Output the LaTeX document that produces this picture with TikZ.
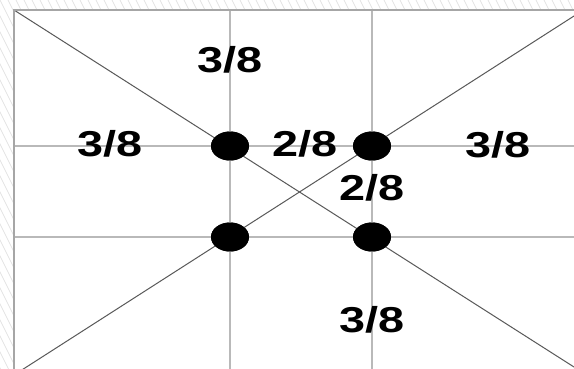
\documentclass[tikz,border=0pt]{standalone}
\usepackage{fontspec}
\setmainfont{Liberation Sans}
\usetikzlibrary{positioning,shapes.geometric}

\tikzset{
  spot/.style={ellipse,fill=black,inner sep=0pt,minimum width=38pt,minimum height=29pt},
  share/.style={font=\fontsize{36}{40}\selectfont\bfseries,inner sep=0pt},
  gridline/.style={draw=gray!55,line width=1.3pt},
  diag/.style={draw=black!65,line width=1pt},
  hatch/.style={draw=gray!22,line width=0.8pt}
}
\newcommand{\wide}[1]{\scalebox{1.3}[1]{#1}}

\begin{document}
\begin{tikzpicture}[x=1pt,y=-1pt]
\useasboundingbox (0,0) rectangle (574,368);
\clip (0,0) rectangle (574,368);
% hatched margin
\foreach \i in {-200,-192,...,580}
  \draw[hatch] (\i,0) -- ++(200,400);
\fill[white] (14,10) rectangle (590,390);
% corners
\coordinate (tl) at (14,10);
\coordinate (br) at (574,367);
\coordinate (bl) at (14,375);
\coordinate (tr) at (574,16);
\coordinate (low) at (0,380);
\coordinate (far) at (590,0);
% dots
\node[spot] (ul) at (230,146) {};
\node[spot] (ur) at (372,146) {};
\node[spot] (ll) at (230,237) {};
\node[spot] (lr) at (372,237) {};
% grid
\draw[gridline] (ul |- tl) -- (ul |- low);
\draw[gridline] (ur |- tl) -- (ur |- low);
\draw[gridline] (tl |- ul) -- (far |- ul);
\draw[gridline] (tl |- ll) -- (far |- ll);
% diagonals
\draw[diag] (tl) -- (br);
\draw[diag] (bl) -- (tr);
% frame
\draw[draw=gray!70,line width=1.8pt] (tl |- low) -- (tl) -- (far |- tl);
\foreach \d in {ul,ur,ll,lr}
  \node[spot] at (\d) {};
% shares
\node[share] (top) at (230,60) {\wide{3/8}};
\node[share] (left) at (110,144) {\wide{3/8}};
\node[share] (mid) at (305,144) {\wide{2/8}};
\node[share] (inner) at (372,188) {\wide{2/8}};
\node[share] (right) at (498,145) {\wide{3/8}};
\node[share] (bottom) at (372,320) {\wide{3/8}};
\end{tikzpicture}
\end{document}
